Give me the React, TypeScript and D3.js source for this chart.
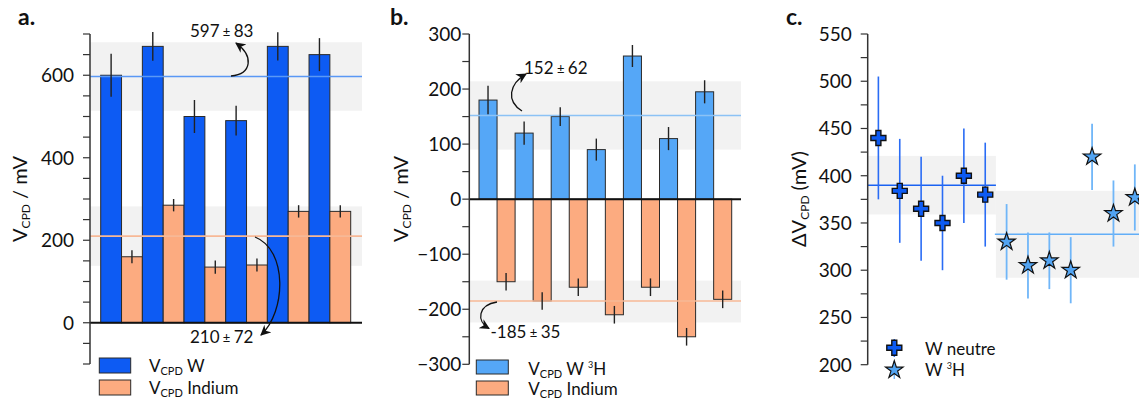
import React from "react";
import * as d3 from "d3";

const FONT = "Lato, 'Open Sans', 'DejaVu Sans', sans-serif";

// ---------- Panel a ----------
const samplesA = ["1", "2", "3", "4", "5", "6"];
const vcpdW = [600, 670, 500, 490, 670, 650];
const vcpdWErr = [52, 35, 40, 36, 34, 40];
const vcpdInA = [160, 285, 135, 140, 270, 270];
const vcpdInAErr = [16, 15, 16, 16, 15, 15];
const meanWA = 597;
const sdWA = 83;
const meanInA = 210;
const sdInA = 72;
const majorA = [0, 200, 400, 600];
const minorA = d3.range(-100, 701, 50);

// ---------- Panel b ----------
const samplesB = ["1", "2", "3", "4", "5", "6", "7"];
const vcpdW3H = [180, 120, 150, 90, 260, 110, 195];
const vcpdW3HErr = [26, 21, 17, 20, 20, 21, 21];
const vcpdInB = [-150, -185, -160, -210, -160, -250, -182];
const vcpdInBErr = [16, 16, 16, 16, 16, 16, 16];
const meanW3H = 152;
const sdW3H = 62;
const meanInB = -185;
const sdInB = 35;
const bandInB = [-224, -148];
const majorB = [-300, -200, -100, 0, 100, 200, 300];
const minorB = d3.range(-300, 301, 50);

// ---------- Panel c ----------
const idxNeutre = [1, 2, 3, 4, 5, 6];
const dvNeutre = [440, 384, 365, 350, 400, 380];
const dvNeutreErr = [65, 55, 55, 50, 50, 55];
const idxTritium = [7, 8, 9, 10, 11, 12, 13];
const dvTritium = [330, 305, 310, 300, 420, 360, 377];
const dvTritiumErr = [40, 35, 30, 35, 35, 35, 35];
const meanNeutre = 390;
const sdNeutre = 31;
const meanTritium = 338;
const sdTritium = 46;
const majorC = [200, 250, 300, 350, 400, 450, 500, 550];
const minorC = d3.range(200, 551, 25);

const BLUE = "#0d5bf3";
const LBLUE = "#55a7f7";
const INDIUM = "#fcab80";
const EDGE = "#2a2a2a";
const BAND = "#f2f2f2";

const fmt = (v: number) => (v < 0 ? "\u2212" + Math.abs(v) : String(v));

function YAxis({ x, y, major, minor, offset }: any) {
  const [d0, d1] = y.domain();
  return (
    <g>
      <line x1={x} x2={x} y1={y(d0)} y2={y(d1)} stroke="#333" strokeWidth={1.5} />
      {minor.map((v: number) => (
        <line key={"m" + v} x1={x - 7} x2={x} y1={y(v)} y2={y(v)} stroke="#333" strokeWidth={1.2} />
      ))}
      {major.map((v: number) => (
        <text key={"t" + v} x={x - offset} y={y(v)} dy="0.36em" textAnchor="end" fontSize={19} fill="#111">
          {fmt(v)}
        </text>
      ))}
    </g>
  );
}

function YTitle({ x, y, prefix }: any) {
  return (
    <text transform={`translate(${x},${y}) rotate(-90)`} textAnchor="middle" fontSize={20} fill="#111">
      {prefix}V
      <tspan fontSize={12} dy={3}>CPD</tspan>
      <tspan dy={-3}>{prefix ? " (mV)" : " / mV"}</tspan>
    </text>
  );
}

export default function App() {
  // Panel a scales
  const axA = 90, rightA = 362;
  const xA = d3.scaleBand().domain(samplesA).range([100.7, 350.7]).padding(0);
  const yA = d3.scaleLinear().domain([-100, 700]).range([364, 34]);
  const bwA = xA.bandwidth() / 2;

  // Panel b scales
  const axB = 469.3, rightB = 741;
  const xB = d3.scaleBand().domain(samplesB).range([479, 731.7]).padding(0);
  const yB = d3.scaleLinear().domain([-300, 300]).range([364.3, 34]);
  const bwB = xB.bandwidth() / 2;

  // Panel c scales
  const axC = 867.7;
  const xC = d3.scaleLinear().domain([0.5, 13.5]).range([axC, axC + 13 * 21.37]);
  const yC = d3.scaleLinear().domain([200, 550]).range([364.7, 34]);

  const cross = d3.symbol().type(d3.symbolCross).size(125)()!;
  const star = d3.symbol().type(d3.symbolStar).size(95)()!;

  return (
    <svg
      width={1139}
      height={401}
      style={{ position: "absolute", left: 0, top: 0, background: "#fff" }}
      fontFamily={FONT}
    >
      <defs>
        <marker id="arr" viewBox="0 0 10 10" refX={9} refY={5} markerWidth={8} markerHeight={8} orient="auto">
          <path d="M0,0 L10,5 L0,10 L3,5 z" fill="#111" />
        </marker>
      </defs>

      {/* ================= Panel a ================= */}
      <text x={18} y={25} fontSize={23} fontWeight="bold" fill="#111">a.</text>
      <rect x={axA} y={yA(meanWA + sdWA)} width={rightA - axA} height={yA(meanWA - sdWA) - yA(meanWA + sdWA)} fill={BAND} />
      <rect x={axA} y={yA(meanInA + sdInA)} width={rightA - axA} height={yA(meanInA - sdInA) - yA(meanInA + sdInA)} fill={BAND} />
      {samplesA.map((s, i) => (
        <g key={"a" + s}>
          <rect x={xA(s)!} y={yA(vcpdW[i])} width={bwA} height={yA(0) - yA(vcpdW[i])} fill={BLUE} stroke={EDGE} strokeWidth={1} />
          <rect x={xA(s)! + bwA} y={yA(vcpdInA[i])} width={bwA} height={yA(0) - yA(vcpdInA[i])} fill={INDIUM} stroke={EDGE} strokeWidth={1} />
        </g>
      ))}
      <line x1={axA} x2={rightA} y1={yA(meanWA)} y2={yA(meanWA)} stroke="#5a98f5" strokeWidth={1.6} />
      <line x1={axA} x2={rightA} y1={yA(meanInA)} y2={yA(meanInA)} stroke="#f7b896" strokeWidth={1.6} />
      {samplesA.map((s, i) => (
        <g key={"ea" + s} stroke="#222" strokeWidth={1.4}>
          <line x1={xA(s)! + bwA / 2} x2={xA(s)! + bwA / 2} y1={yA(vcpdW[i] + vcpdWErr[i])} y2={yA(vcpdW[i] - vcpdWErr[i])} />
          <line x1={xA(s)! + 1.5 * bwA} x2={xA(s)! + 1.5 * bwA} y1={yA(vcpdInA[i] + vcpdInAErr[i])} y2={yA(vcpdInA[i] - vcpdInAErr[i])} />
        </g>
      ))}
      <line x1={axA} x2={rightA} y1={yA(0)} y2={yA(0)} stroke="#111" strokeWidth={2} />
      <YAxis x={axA} y={yA} major={majorA} minor={minorA} offset={16} />
      <YTitle x={27} y={199} prefix="" />
      <text x={221.7} y={37} textAnchor="middle" fontSize={17} fill="#111">
        {meanWA}<tspan fontSize={13}> ± </tspan>{sdWA}
      </text>
      <path d="M231,76 C252,74 254,56 236,43" fill="none" stroke="#111" strokeWidth={1.3} markerEnd="url(#arr)" />
      <text x={221.7} y={342.5} textAnchor="middle" fontSize={17} fill="#111">
        {meanInA}<tspan fontSize={13}> ± </tspan>{sdInA}
      </text>
      <path d="M255,237 C288,250 286,312 261,335" fill="none" stroke="#111" strokeWidth={1.3} markerEnd="url(#arr)" />
      {/* legend a */}
      <rect x={99.3} y={358} width={31.4} height={15} fill={BLUE} stroke={EDGE} strokeWidth={1} />
      <rect x={99.3} y={380} width={31.4} height={15} fill={INDIUM} stroke={EDGE} strokeWidth={1} />
      <text x={149} y={371.5} fontSize={17} fill="#111">
        V<tspan fontSize={11} dy={3}>CPD</tspan><tspan dy={-3}> W</tspan>
      </text>
      <text x={149} y={394.3} fontSize={17} fill="#111">
        V<tspan fontSize={11} dy={3}>CPD</tspan><tspan dy={-3}> Indium</tspan>
      </text>

      {/* ================= Panel b ================= */}
      <text x={390} y={25} fontSize={23} fontWeight="bold" fill="#111">b.</text>
      <rect x={axB} y={yB(meanW3H + sdW3H)} width={rightB - axB} height={yB(meanW3H - sdW3H) - yB(meanW3H + sdW3H)} fill={BAND} />
      <rect x={axB} y={yB(bandInB[1])} width={rightB - axB} height={yB(bandInB[0]) - yB(bandInB[1])} fill={BAND} />
      {samplesB.map((s, i) => (
        <g key={"b" + s}>
          <rect x={xB(s)!} y={yB(vcpdW3H[i])} width={bwB} height={yB(0) - yB(vcpdW3H[i])} fill={LBLUE} stroke={EDGE} strokeWidth={1} />
          <rect x={xB(s)! + bwB} y={yB(0)} width={bwB} height={yB(vcpdInB[i]) - yB(0)} fill={INDIUM} stroke={EDGE} strokeWidth={1} />
        </g>
      ))}
      <line x1={axB} x2={rightB} y1={yB(meanW3H)} y2={yB(meanW3H)} stroke="#8cc2f5" strokeWidth={1.6} />
      <line x1={axB} x2={rightB} y1={yB(meanInB)} y2={yB(meanInB)} stroke="#f7b896" strokeWidth={1.6} />
      {samplesB.map((s, i) => (
        <g key={"eb" + s} stroke="#222" strokeWidth={1.4}>
          <line x1={xB(s)! + bwB / 2} x2={xB(s)! + bwB / 2} y1={yB(vcpdW3H[i] + vcpdW3HErr[i])} y2={yB(vcpdW3H[i] - vcpdW3HErr[i])} />
          <line x1={xB(s)! + 1.5 * bwB} x2={xB(s)! + 1.5 * bwB} y1={yB(vcpdInB[i] + vcpdInBErr[i])} y2={yB(vcpdInB[i] - vcpdInBErr[i])} />
        </g>
      ))}
      <line x1={axB} x2={rightB} y1={yB(0)} y2={yB(0)} stroke="#111" strokeWidth={2} />
      <YAxis x={axB} y={yB} major={majorB} minor={minorB} offset={8} />
      <YTitle x={408} y={199} prefix="" />
      <text x={524} y={73.5} fontSize={17} fill="#111">
        {meanW3H}<tspan fontSize={13}> ± </tspan>{sdW3H}
      </text>
      <path d="M522,111 C506,101 509,84 526,74" fill="none" stroke="#111" strokeWidth={1.3} markerEnd="url(#arr)" />
      <text x={490.5} y={337.5} fontSize={17} fill="#111">
        -{Math.abs(meanInB)}<tspan fontSize={13}> ± </tspan>{sdInB}
      </text>
      <path d="M497,302 C478,305 476,321 489,328.5" fill="none" stroke="#111" strokeWidth={1.3} markerEnd="url(#arr)" />
      {/* legend b */}
      <rect x={476.3} y={360} width={32} height={14} fill={LBLUE} stroke={EDGE} strokeWidth={1} />
      <rect x={476.3} y={381} width={32} height={14} fill={INDIUM} stroke={EDGE} strokeWidth={1} />
      <text x={528.3} y={374.5} fontSize={17} fill="#111">
        V<tspan fontSize={11} dy={3}>CPD</tspan><tspan dy={-3}> W </tspan>
        <tspan fontSize={9} dy={-7}>3</tspan><tspan dy={7}>H</tspan>
      </text>
      <text x={528.3} y={394.5} fontSize={17} fill="#111">
        V<tspan fontSize={11} dy={3}>CPD</tspan><tspan dy={-3}> Indium</tspan>
      </text>

      {/* ================= Panel c ================= */}
      <text x={786} y={25} fontSize={23} fontWeight="bold" fill="#111">c.</text>
      <rect x={xC(0.5)} y={yC(meanNeutre + sdNeutre)} width={xC(6.5) - xC(0.5)} height={yC(meanNeutre - sdNeutre) - yC(meanNeutre + sdNeutre)} fill={BAND} />
      <rect x={xC(6.5)} y={yC(meanTritium + sdTritium)} width={xC(14.5) - xC(6.5)} height={yC(meanTritium - sdTritium) - yC(meanTritium + sdTritium)} fill={BAND} />
      <line x1={xC(0.5)} x2={xC(6.5)} y1={yC(meanNeutre)} y2={yC(meanNeutre)} stroke="#1a62f2" strokeWidth={1.5} />
      <line x1={xC(6.45)} x2={xC(14.5)} y1={yC(meanTritium)} y2={yC(meanTritium)} stroke="#62aef7" strokeWidth={1.5} />
      {idxNeutre.map((k, i) => (
        <line key={"en" + k} x1={xC(k)} x2={xC(k)} y1={yC(dvNeutre[i] + dvNeutreErr[i])} y2={yC(dvNeutre[i] - dvNeutreErr[i])} stroke="#2a6cf5" strokeWidth={1.6} />
      ))}
      {idxTritium.map((k, i) => (
        <line key={"et" + k} x1={xC(k)} x2={xC(k)} y1={yC(dvTritium[i] + dvTritiumErr[i])} y2={yC(dvTritium[i] - dvTritiumErr[i])} stroke="#70b6f8" strokeWidth={1.8} />
      ))}
      {idxNeutre.map((k, i) => (
        <path key={"pn" + k} d={cross} transform={`translate(${xC(k)},${yC(dvNeutre[i])})`} fill={BLUE} stroke="#111" strokeWidth={1.4} />
      ))}
      {idxTritium.map((k, i) => (
        <path key={"pt" + k} d={star} transform={`translate(${xC(k)},${yC(dvTritium[i])})`} fill="#52a4f2" stroke="#111" strokeWidth={1.2} />
      ))}
      <YAxis x={axC} y={yC} major={majorC} minor={minorC} offset={16} />
      <YTitle x={806} y={199} prefix={"\u0394"} />
      {/* legend c */}
      <line x1={894.3} x2={894.3} y1={339} y2={357} stroke="#2a6cf5" strokeWidth={1.5} />
      <path d={cross} transform="translate(894.3,347.7)" fill={BLUE} stroke="#111" strokeWidth={1.4} />
      <line x1={894.3} x2={894.3} y1={361} y2={379} stroke="#70b6f8" strokeWidth={1.5} />
      <path d={star} transform="translate(894.3,370)" fill="#52a4f2" stroke="#111" strokeWidth={1.2} />
      <text x={925} y={355} fontSize={17} fill="#111">W neutre</text>
      <text x={925} y={376} fontSize={17} fill="#111">
        W <tspan fontSize={9} dy={-7}>3</tspan><tspan dy={7}>H</tspan>
      </text>
    </svg>
  );
}
